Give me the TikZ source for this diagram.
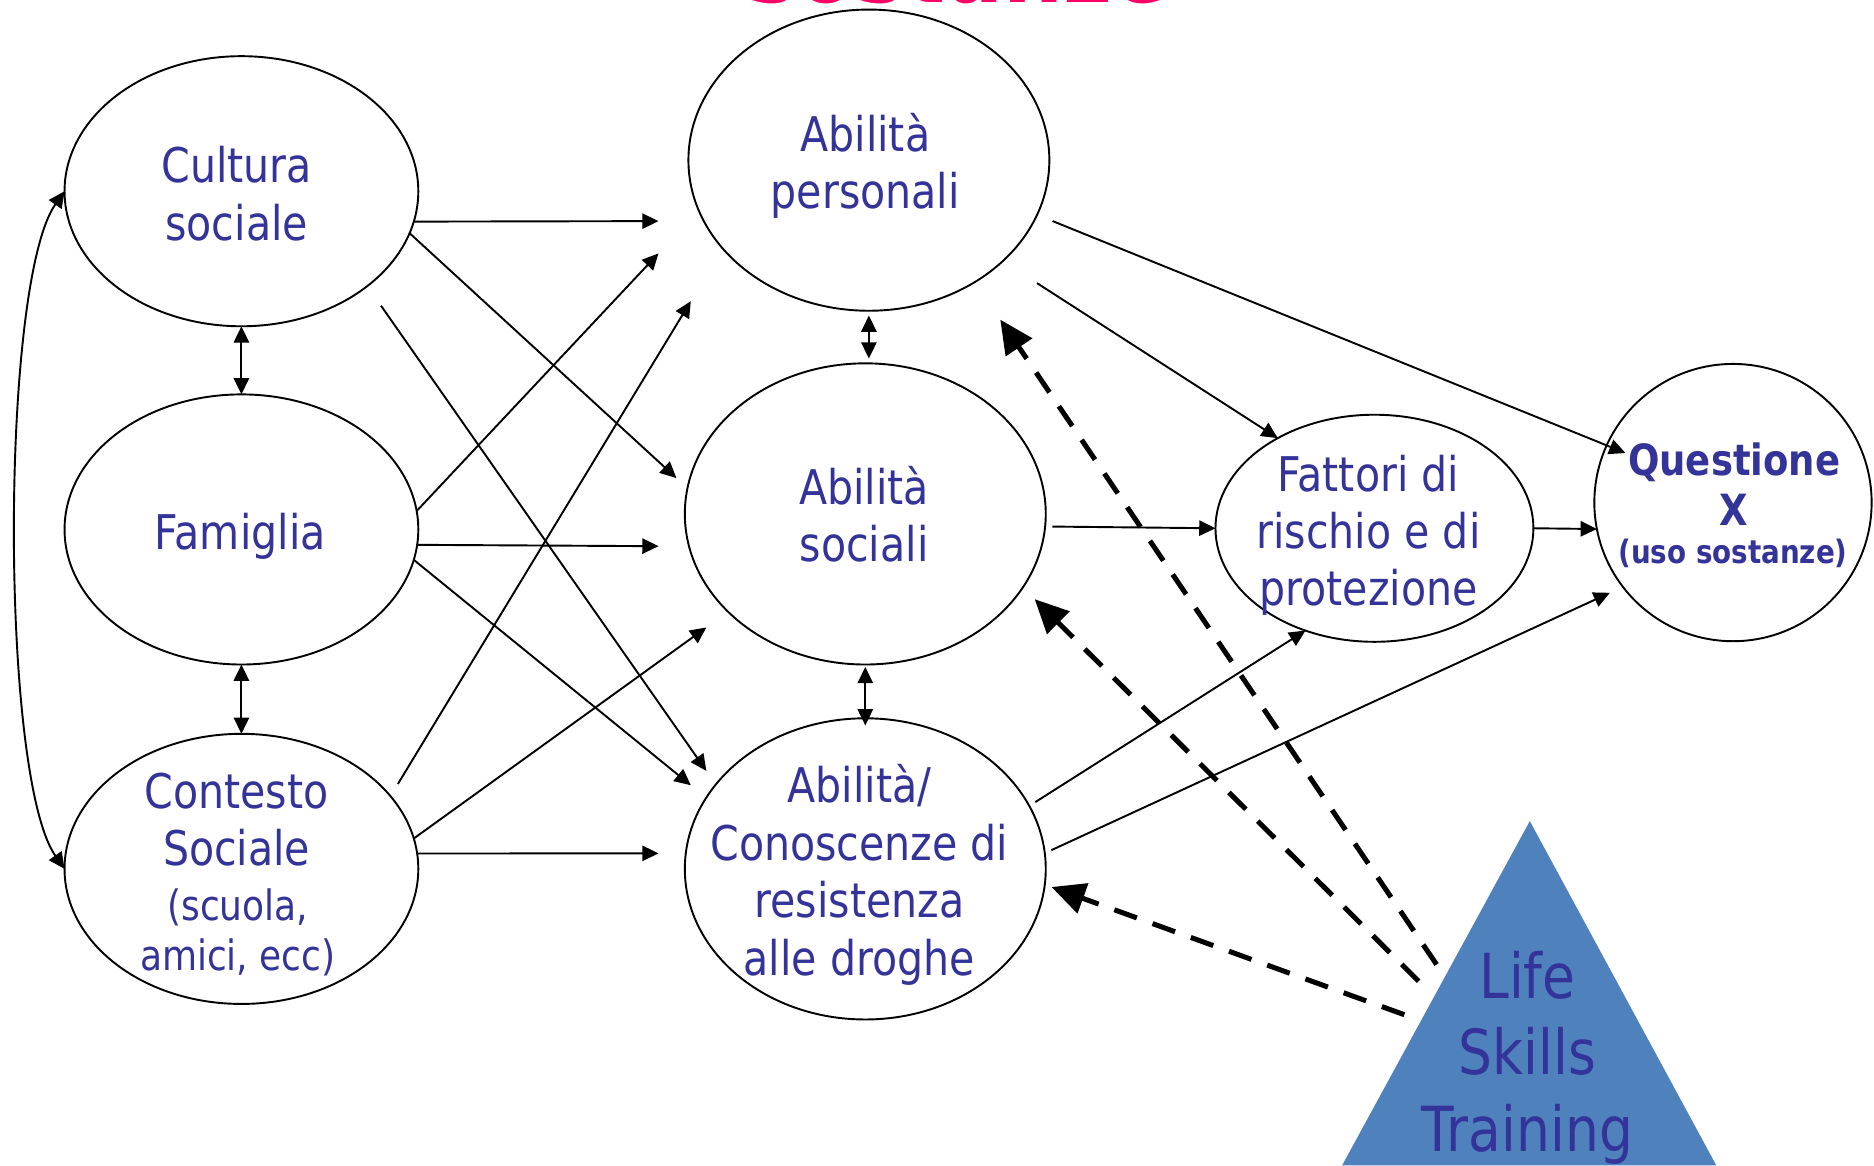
\documentclass[tikz,border=0pt]{standalone}
\usepackage{fontspec}
\setmainfont{DejaVu Sans}[FakeStretch=0.86]
\usetikzlibrary{arrows.meta,shapes.geometric}
\definecolor{txtblue}{HTML}{333399}
\definecolor{trifill}{HTML}{4F81BD}
\definecolor{titlepink}{HTML}{FF0066}
\begin{document}
\begin{tikzpicture}[x=0.5pt,y=-0.5pt,
  oval/.style={draw=black,line width=0.8pt,ellipse,inner sep=0pt,outer sep=0pt},
  lbl/.style={text=txtblue,align=center,inner sep=0pt,font=\fontsize{20}{24}\selectfont},
  arr/.style={line width=0.8pt,-{Triangle[length=6.8pt,width=6.4pt]}},
  darr/.style={line width=0.8pt,{Triangle[length=6.8pt,width=6.4pt]}-{Triangle[length=6.8pt,width=6.4pt]}},
  dash arr/.style={line width=2.1pt,dash pattern=on 10pt off 7pt,-{Triangle[length=14pt,width=13pt]}}]
\useasboundingbox (0,0) rectangle (1568,975);

% title (only its lower edge is visible)
\begin{scope}
\clip (0,0) rectangle (1568,975);
\node[text=titlepink,font=\bfseries\fontsize{41}{41}\selectfont,anchor=base,inner sep=0pt] (title) at (802,2.5) {sostanze};
\end{scope}

% ellipses
\node[oval,minimum width=148pt,minimum height=113pt] (cult) at (202,160) {};
\node[oval,minimum width=148pt,minimum height=113pt] (fam) at (202,443) {};
\node[oval,minimum width=148pt,minimum height=113pt] (cont) at (202,727) {};
\node[oval,minimum width=151pt,minimum height=126pt] (pers) at (727,134) {};
\node[oval,minimum width=151pt,minimum height=126pt] (soc) at (724,430) {};
\node[oval,minimum width=151pt,minimum height=126pt] (abil) at (724,727) {};
\node[oval,minimum width=133pt,minimum height=95pt] (fatt) at (1150,442) {};
\node[draw=black,line width=0.8pt,circle,inner sep=0pt,outer sep=0pt,minimum size=116pt] (q) at (1450,420.5) {};

% texts
\node[lbl] (cult-t) at (198,162) {Cultura\\sociale};
\node[lbl] (fam-t) at (201,449) {Famiglia};
\node[lbl] (cont-t) at (198,686) {Contesto\\Sociale};
\node[lbl,font=\fontsize{17.5}{21}\selectfont] (cont-s) at (199,780) {(scuola,\\amici, ecc)};
\node[lbl] (pers-t) at (724,139) {Abilità\\personali};
\node[lbl] (soc-t) at (723,430) {Abilità\\sociali};
\node[lbl] (abil-t) at (719,732) {Abilità/\\Conoscenze di\\resistenza\\alle droghe};
\node[lbl] (fatt-t) at (1145,448) {Fattori di\\rischio e di\\protezione};
\node[lbl,font=\bfseries\fontsize{18}{20.8}\selectfont] (q-t) at (1451,405) {Questione\\X};
\node[lbl,font=\bfseries\fontsize{13.5}{16}\selectfont] (q-s) at (1450,463) {(uso sostanze)};

% triangle
\fill[trifill] (1280,687) -- (1436,975) -- (1123,975) -- cycle;
\node[lbl,font=\fontsize{26}{32.1}\selectfont] (lst) at (1278,885) {Life\\Skills\\Training};

% free arrow tips
\coordinate (t4) at (551,185);
\coordinate (t5) at (566,400);
\coordinate (t6) at (591,645);
\coordinate (t7) at (551,212);
\coordinate (t8) at (551,457);
\coordinate (t9) at (578,657);
\coordinate (t10) at (578,252);
\coordinate (t11) at (591,525);
\coordinate (t12) at (551,714);
\coordinate (t16) at (1360,379);
\coordinate (t19) at (1347,496);
\coordinate (d1) at (1202,807);
\coordinate (d2) at (1187,821);
\coordinate (d3) at (1175,849);

% left column links
\draw[darr] (cult.south) -- (fam.north);
\draw[darr] (fam.south) -- (cont.north);
\draw[darr] (cult.west) .. controls (0,237) and (0,650) .. (cont.west);

% left -> middle
\draw[arr] (cult.-10) -- (t4);
\draw[arr] (cult.-14) -- (t5);
\draw[arr,shorten <=10pt] (cult.-37) -- (t6);
\draw[arr] (fam.6) -- (t7);
\draw[arr] (fam.-5) -- (t8);
\draw[arr] (fam.-10) -- (t9);
\draw[arr,shorten <=6pt] (cont.26) -- (t10);
\draw[arr] (cont.10) -- (t11);
\draw[arr] (cont.5) -- (t12);

% middle column links
\draw[darr,shorten <=2pt,shorten >=2pt] (pers.south) -- (pers.south |- soc.north);
\draw[darr,shorten <=1pt,shorten >=-3pt] (soc.south) -- (abil.north);

% middle -> right
\draw[arr,shorten <=17pt] (pers.-37) -- (fatt.137);
\draw[arr,shorten <=7pt] (pers.-18) -- (t16);
\draw[arr,shorten <=3pt] (soc.-4) -- (fatt.west);
\draw[arr,shorten <=3pt] (abil.21) -- (fatt.236);
\draw[arr,shorten <=3pt] (abil.5) -- (t19);
\draw[arr] (fatt.east) -- (q.191);

% Life Skills Training influences
\draw[dash arr,shorten >=19pt] (d1) -- (pers.-49.4);
\draw[dash arr,shorten >=7pt] (d2) -- (soc.-25.3);
\draw[dash arr,shorten >=3pt] (d3) -- (abil.-5.5);
\end{tikzpicture}
\end{document}
